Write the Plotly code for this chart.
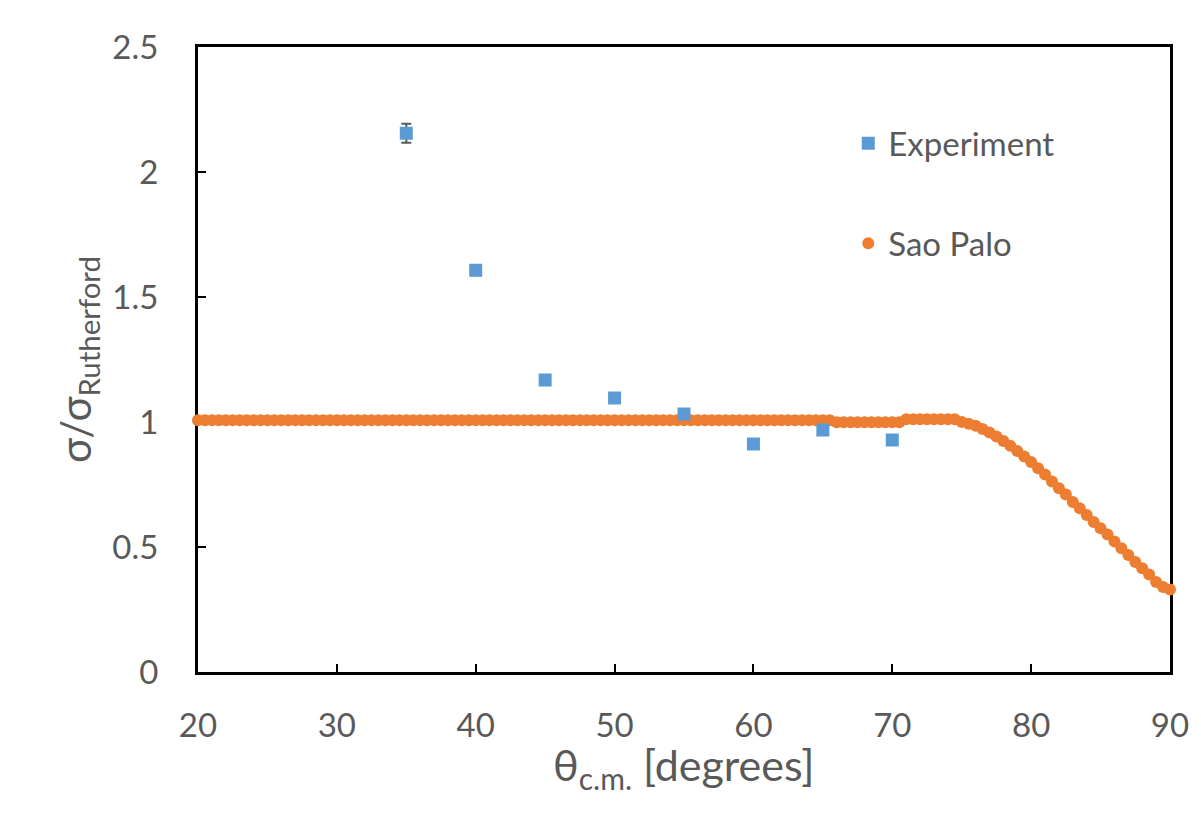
import plotly.graph_objects as go

# Experimental data
exp_theta = [35, 40, 45, 50, 55, 60, 65, 70]
exp_ratio = [2.155, 1.607, 1.168, 1.096, 1.032, 0.912, 0.968, 0.928]
exp_err = [0.038, 0.02, 0.012, 0.01, 0.01, 0.01, 0.01, 0.01]

# Sao Paulo calculation, theta grid 20..90 in 0.5 degree steps
theory_theta = [20 + 0.5 * i for i in range(141)]
theory_ratio = [
    1.007, 1.007, 1.007, 1.007, 1.007, 1.007, 1.007, 1.007, 1.007, 1.007,
    1.007, 1.007, 1.007, 1.007, 1.007, 1.007, 1.007, 1.007, 1.007, 1.007,
    1.007, 1.007, 1.007, 1.007, 1.007, 1.007, 1.007, 1.007, 1.007, 1.007,
    1.007, 1.007, 1.007, 1.007, 1.007, 1.007, 1.007, 1.007, 1.007, 1.007,
    1.007, 1.007, 1.007, 1.007, 1.007, 1.007, 1.007, 1.007, 1.007, 1.007,
    1.007, 1.007, 1.007, 1.007, 1.007, 1.007, 1.007, 1.007, 1.007, 1.007,
    1.007, 1.007, 1.007, 1.007, 1.007, 1.007, 1.007, 1.007, 1.007, 1.007,
    1.007, 1.007, 1.007, 1.007, 1.007, 1.007, 1.007, 1.007, 1.007, 1.007,
    1.007, 1.007, 1.007, 1.007, 1.007, 1.007, 1.007, 1.007, 1.007, 1.007,
    1.007, 1.007,
    0.999, 0.999, 0.999, 0.999, 0.999, 0.999, 0.999, 0.999, 0.999, 0.999,
    1.011, 1.011, 1.011, 1.011, 1.011, 1.011, 1.011, 1.011,
    1.000, 0.993, 0.985, 0.972, 0.958, 0.942, 0.924, 0.905, 0.884, 0.862,
    0.840, 0.815, 0.790, 0.762, 0.735, 0.710, 0.680, 0.655, 0.628, 0.600,
    0.575, 0.550, 0.522, 0.495, 0.468, 0.440, 0.415, 0.390, 0.360, 0.340,
    0.330,
]

x_ticks = [20, 30, 40, 50, 60, 70, 80, 90]
y_ticks = [0, 0.5, 1, 1.5, 2, 2.5]
y_tick_text = ["0", "0.5", "1", "1.5", "2", "2.5"]
x_title = "θ<sub>c.m.</sub> [degrees]"
y_title = "σ/σ<sub>Rutherford</sub>"

FONT = "Lato, Open Sans, sans-serif"
GRAY = "#595959"

fig = go.Figure()
fig.add_trace(go.Scatter(
    x=theory_theta, y=theory_ratio, mode="markers", name="Sao Palo",
    marker=dict(symbol="circle", size=12, color="#ED7D31"),
    cliponaxis=False, legend="legend2", showlegend=True,
))
fig.add_trace(go.Scatter(
    x=exp_theta, y=exp_ratio, mode="markers", name="Experiment",
    marker=dict(symbol="square", size=13, color="#5B9BD5"),
    error_y=dict(type="data", array=exp_err, visible=True,
                 color="#595959", thickness=2, width=5),
    cliponaxis=False, legend="legend", showlegend=True,
))

axis_common = dict(
    showline=True, linecolor="black", linewidth=3, mirror=True,
    showgrid=False, zeroline=False, ticks="inside", ticklen=8,
    tickwidth=2, tickcolor="black", layer="below traces",
    tickfont=dict(family=FONT, size=33, color=GRAY),
)

fig.update_layout(
    width=1201, height=814,
    margin=dict(l=198, r=21, t=47, b=142),
    showlegend=True,
    paper_bgcolor="white", plot_bgcolor="white",
    xaxis=dict(range=[20, 90], tickvals=x_ticks,
               ticklabelstandoff=22, **axis_common),
    yaxis=dict(range=[0, 2.5], tickvals=y_ticks, ticktext=y_tick_text,
               title=dict(text=y_title, standoff=8,
                          font=dict(family=FONT, size=42, color=GRAY)),
               ticklabelstandoff=30, **axis_common),
    legend=dict(x=0.669, y=0.846, xanchor="left", yanchor="middle",
                bgcolor="rgba(0,0,0,0)",
                font=dict(family=FONT, size=33, color=GRAY)),
    legend2=dict(x=0.669, y=0.686, xanchor="left", yanchor="middle",
                 bgcolor="rgba(0,0,0,0)",
                 font=dict(family=FONT, size=33, color=GRAY)),
    annotations=[dict(text=x_title, xref="paper", yref="paper",
                      x=0.5, y=-0.153, xanchor="center", yanchor="middle",
                      showarrow=False,
                      font=dict(family=FONT, size=43, color=GRAY))],
)

fig.write_html("out.html", config={"displayModeBar": False},
               post_script="document.body.style.margin='0';")
